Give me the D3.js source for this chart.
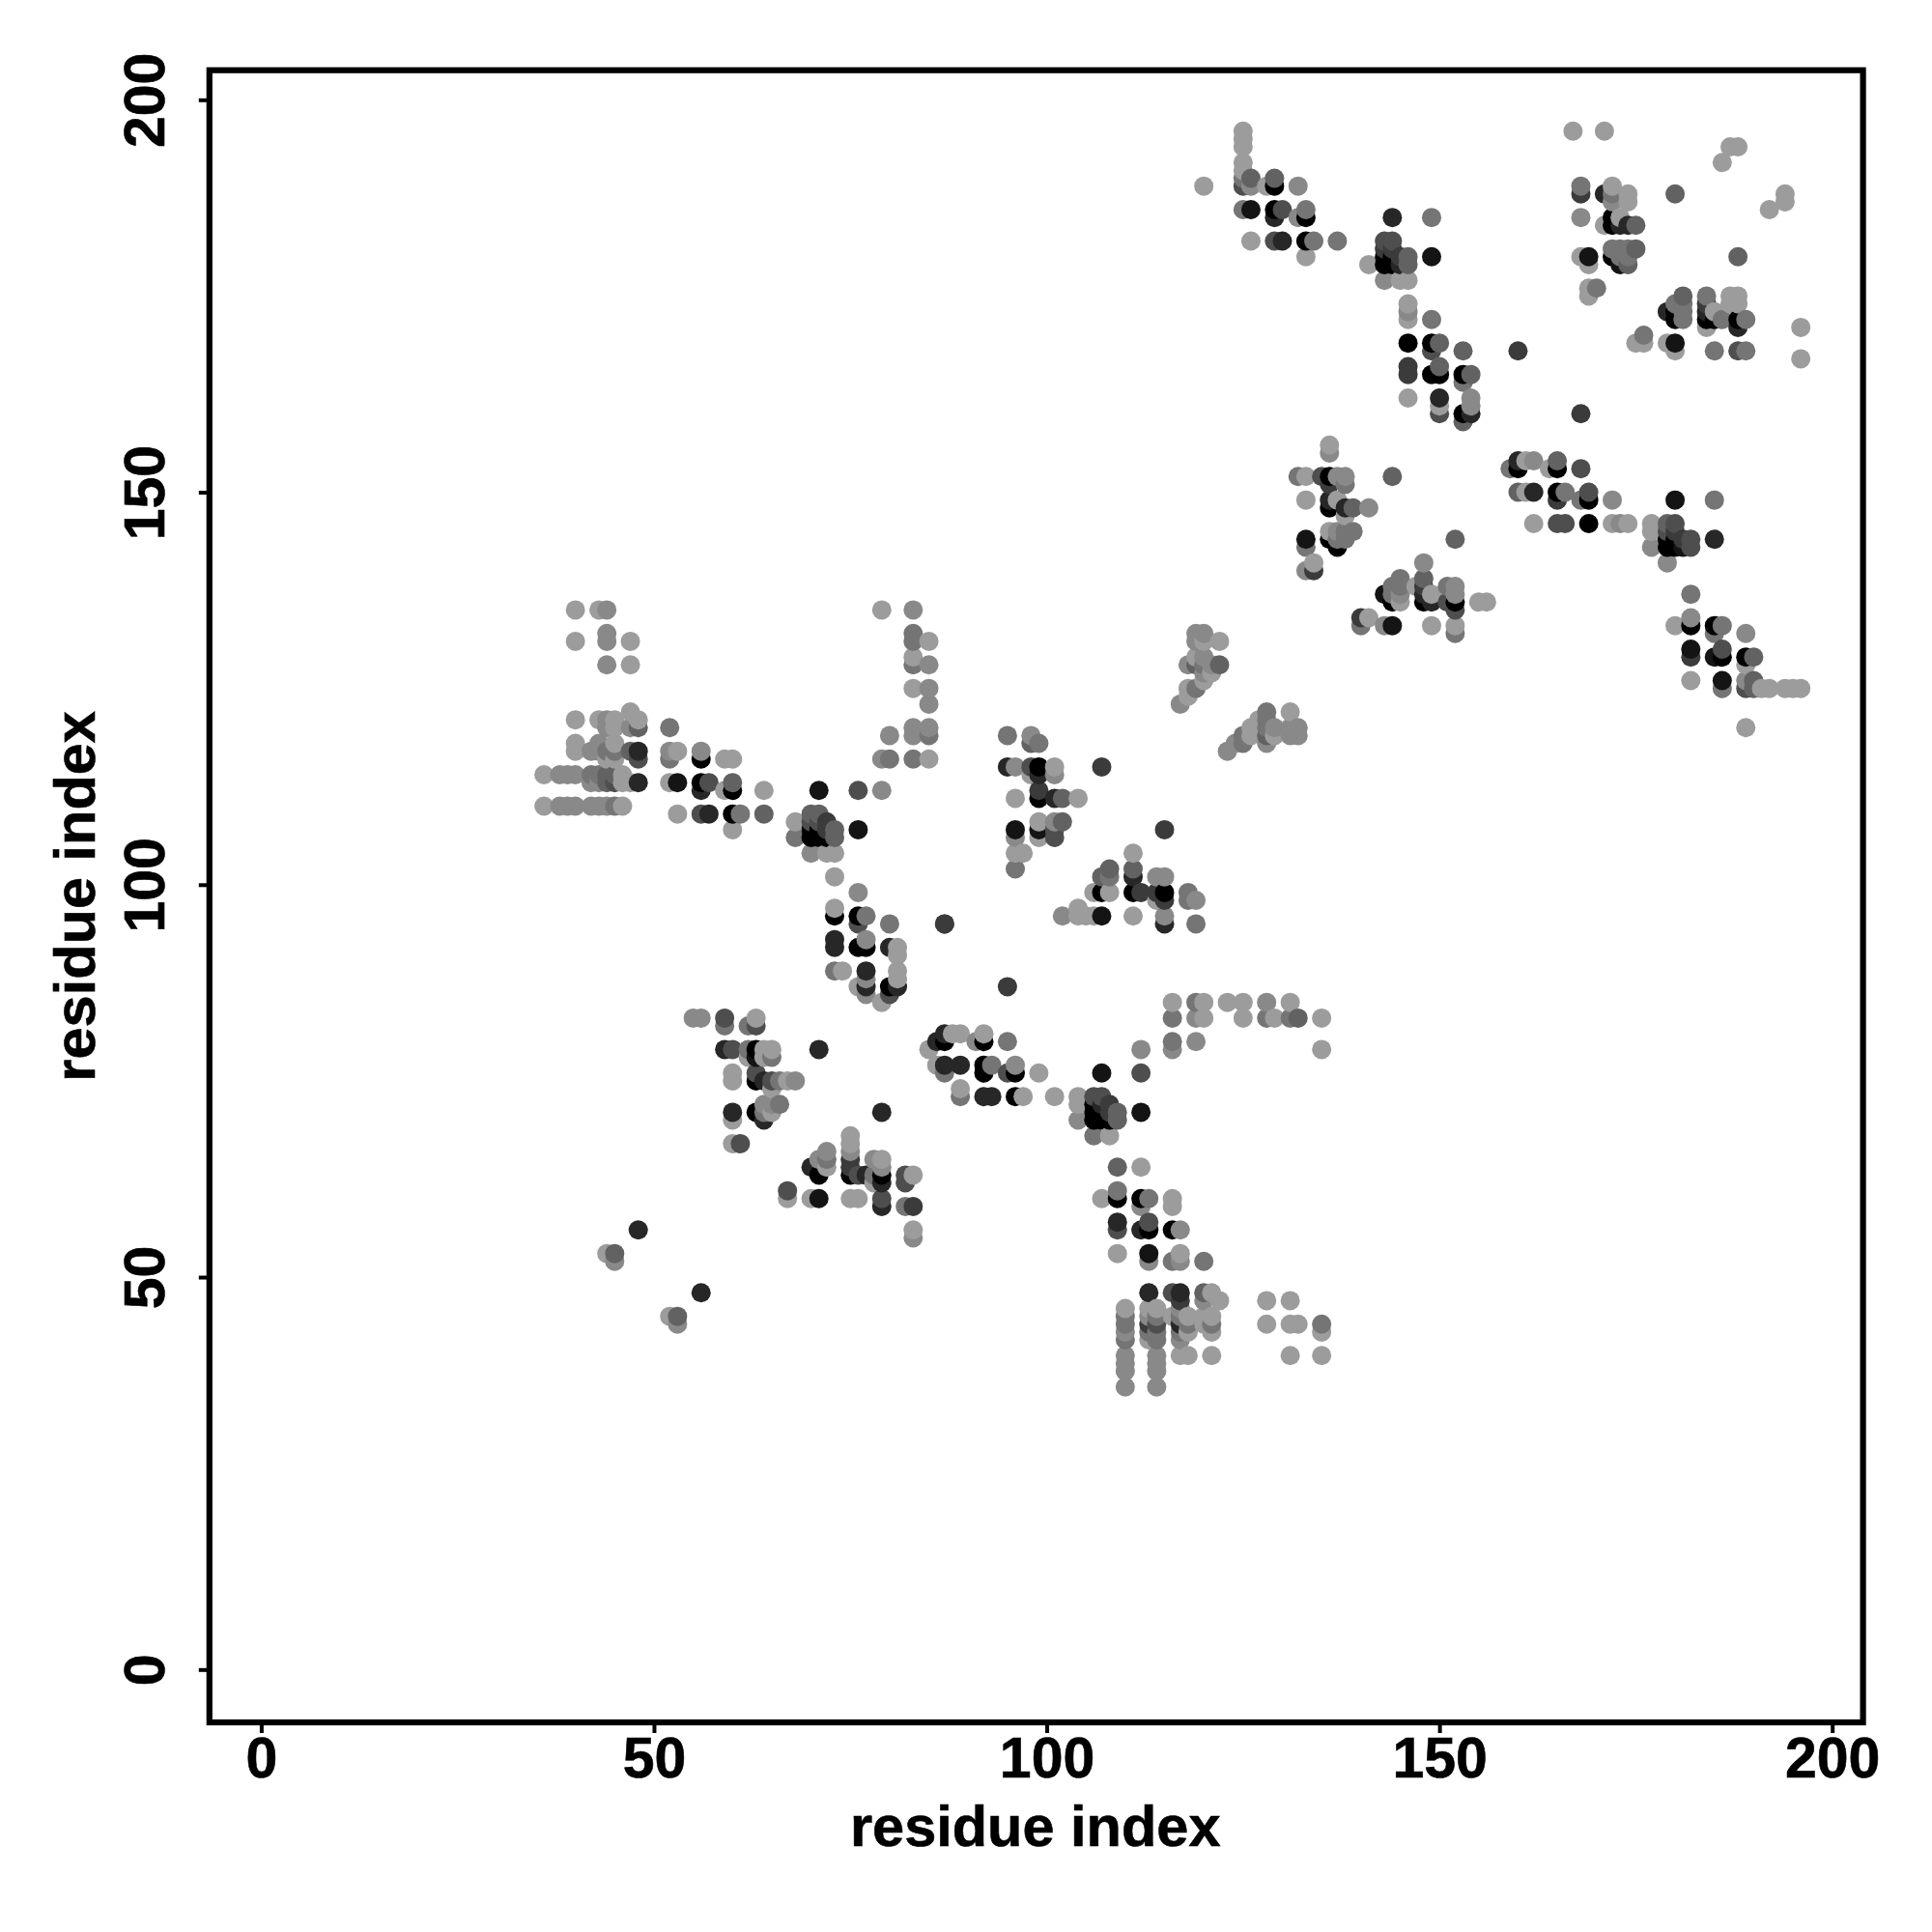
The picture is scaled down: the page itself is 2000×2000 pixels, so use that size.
<!DOCTYPE html>
<html><head><meta charset="utf-8">
<script src="https://cdn.jsdelivr.net/npm/d3@7/dist/d3.min.js"></script>
<style>html,body{margin:0;padding:0;background:#fff}</style></head>
<body><svg id="chart" width="2000" height="2000"></svg>
<script>
// each contact: [residue i, residue j, strength 1 (weak) .. 9 (strong)]
const tickValues = [0, 50, 100, 150, 200];
const axisTitle = "residue index";
const clusterA = [
[40,135,1],[43,135,1],[44,135,2],[40,131,1],[44,132,2],[44,131,2],[47,131,1],[44,128,2],[47,128,1],
[40,121,1],[43,121,1],[44,121,2],[45,121,1],[47,122,1],[48,121,1],[44,120,2],[45,120,1],[47,120,2],[48,120,4],
[40,118,1],[40,117,1],[42,117,2],[43,118,2],[43,117,2],[44,117,3],[45,118,1],[45,117,3],[44,116,1],[45,116,1],[47,117,4],[48,117,7],[48,116,5],
[36,114,1],[38,114,2],[39,114,2],[40,114,2],[42,114,3],[43,114,3],[44,114,4],[45,114,4],[46,114,1],
[42,113,2],[43,113,2],[44,113,4],[45,113,5],[46,113,1],[47,113,1],[48,113,7],
[36,110,1],[38,110,2],[39,110,2],[40,110,2],[42,110,2],[43,110,2],[44,110,2],[45,110,3],[46,110,1]
];
const clusterB = [
[52,120,3],[52,117,2],[53,117,1],[56,117,2],[52,116,3],[56,116,9],[59,116,1],[60,116,1],
[52,113,1],[53,113,8],[56,113,9],[57,113,5],[60,113,4],[56,112,7],[59,112,1],[60,112,9],[64,112,1],
[53,109,1],[56,109,5],[57,109,7],[60,109,9],[61,109,3],[64,109,4],[60,107,1],
[71,112,8],[76,112,5],[79,112,2],[68,108,1],[68,106,3],
[70,109,4],[71,109,4],[70,108,5],[71,108,5],[72,108,6],[70,107,9],[71,107,9],[72,107,6],[73,107,4],
[70,106,9],[71,106,9],[72,106,9],[73,106,4],[76,107,8],[70,104,2],[72,104,1],[73,104,1]
];
const clusterC = [
[79,135,1],[83,135,2],[83,132,3],[83,131,3],[85,131,1],[83,129,1],[83,128,3],[85,128,2],[83,125,1],[85,125,2],[85,123,2],
[83,120,2],[85,120,2],[80,119,2],[83,119,2],[85,119,3],[79,116,2],[80,116,3],[83,116,3],[85,116,1],
[73,101,1],[76,99,2],[73,97,1],[73,96,9],[76,96,9],[77,96,3],[76,95,5],[80,95,3],[87,95,6],
[73,93,7],[77,93,2],[73,92,7],[76,92,9],[77,92,9],[80,92,7],[81,92,1],[81,91,1],[73,89,3],[74,89,1],[77,89,7],[81,89,1],
[77,88,2],[81,88,1],[76,87,1],[77,87,7],[80,87,9],[81,87,7],[77,86,2],[80,86,5],[79,85,1]
];
const clusterD = [
[55,83,2],[56,83,2],[59,83,5],[63,83,1],[59,82,3],[62,82,3],[63,82,5],[59,79,7],[60,79,5],[62,79,3],[63,79,9],[64,79,1],[65,79,1],[71,79,7],
[62,78,1],[63,78,8],[64,78,1],[65,78,3],[60,76,1],[63,76,5],[60,75,1],[63,75,9],[64,75,7],[65,75,5],[66,75,3],[67,75,1],[68,75,2],[65,74,1],
[64,72,2],[65,72,2],[66,72,3],[60,71,7],[63,71,9],[64,71,3],[65,71,1],[60,70,1],[64,70,7],[60,67,1],[61,67,5],[79,71,7]
];
const clusterE = [
[72,66,2],[72,65,3],[71,65,2],[75,68,1],[75,67,1],[75,66,2],[75,65,6],[75,64,6],[75,63,9],[70,64,7],[72,64,1],
[71,63,9],[76,63,5],[77,63,7],[78,63,3],[78,65,2],[79,65,1],[79,64,2],[79,63,9],[82,63,5],[83,63,1],[78,62,1],[79,62,7],[82,62,5],
[67,61,5],[67,60,1],[70,60,1],[71,60,8],[75,60,1],[76,60,1],[79,60,5],[79,59,7],[82,59,3],[83,59,6],[83,56,1],[83,55,2],
[48,56,7],[44,53,1],[45,53,4],[45,52,2],[56,48,7],[52,45,1],[53,45,4],[53,44,2]
];
const clusterF = [
[95,119,3],[98,119,2],[98,118,4],[99,118,3],[95,115,7],[96,115,2],[98,115,5],[99,115,9],[101,115,1],[107,115,6],
[98,114,1],[99,114,7],[101,114,2],[99,112,6],[96,111,1],[99,111,9],[101,111,7],[102,111,4],[104,111,1],
[99,108,1],[101,108,2],[102,108,4],[96,107,8],[99,107,8],[101,107,5],[115,107,6],[96,106,2],[99,106,1],[101,106,5],[96,104,1],[97,104,1],[96,102,3],
[111,104,1],[108,102,4],[111,102,4],[107,101,4],[108,101,3],[111,101,7],[114,101,2],[115,101,2],
[106,99,1],[107,99,9],[108,99,1],[111,99,9],[112,99,6],[114,99,6],[115,99,9],[118,99,3],[114,98,1],[115,98,6],[118,98,3],[119,98,2],
[102,96,2],[104,96,1],[105,96,1],[106,96,1],[107,96,8],[111,96,1],[115,96,2],[104,97,1],[115,95,7],[119,95,3],[87,95,6],[95,87,6]
];
const clusterG = [
[119,132,2],[120,132,2],[119,131,2],[120,131,1],[122,131,1],[119,129,1],[120,129,2],[118,128,2],[119,128,4],[120,128,3],[121,128,2],[122,128,4],
[120,127,2],[121,127,1],[120,126,1],[118,125,1],[119,125,3],[118,124,1],[117,123,2],
[123,117,2],[124,118,2],[125,118,3],[125,119,3],[126,119,1],[126,120,1],[127,120,1],[127,121,1],
[128,122,3],[131,122,1],[128,121,3],[128,120,3],[129,120,2],[128,119,4],[129,119,1],[131,120,2],[132,120,2],[131,119,2],[132,119,2],[128,118,2]
];
const clusterH = [
[116,85,1],[119,85,3],[120,85,1],[123,85,1],[125,85,1],[128,85,2],[131,85,1],
[116,83,3],[119,83,2],[120,83,1],[125,83,1],[128,83,3],[129,83,1],[131,83,3],[132,83,4],[135,83,1],
[116,80,3],[119,80,2],[116,79,2],[112,79,2],[135,79,1],
[87,81,7],[88,81,1],[89,81,1],[92,81,1],[86,80,7],[87,80,9],[91,80,2],[92,80,9],[95,80,3],[85,79,1],
[86,77,1],[87,77,7],[89,77,7],[92,77,9],[93,77,3],[96,77,2],[87,76,3],[92,76,9],[95,76,5],[96,76,9],[99,76,1],
[89,74,1],[89,73,3],[92,73,7],[93,73,7],[96,73,9],[97,73,1],[101,73,1],
[104,73,1],[104,72,1],[104,70,2],[107,76,8],[112,76,5],[112,71,8],
[106,73,5],[107,73,5],[106,72,9],[107,72,7],[108,72,6],[106,71,9],[107,71,9],[108,71,6],[109,71,4],[106,70,9],[107,70,9],[108,70,9],[109,70,4],[106,68,3],[108,68,1]
];
const clusterI = [
[109,64,4],[112,64,1],[109,61,3],[107,60,1],[109,60,9],[112,60,9],[113,60,3],[116,60,1],[112,59,2],[116,59,1],
[109,57,7],[113,57,5],[109,56,5],[112,56,7],[113,56,9],[116,56,9],[117,56,2],[109,53,1],[113,53,8],[117,53,1],[113,52,2],[116,52,3],[117,52,2],[120,52,3],
[113,48,7],[116,48,5],[117,48,7],[120,48,4],[121,48,1],[120,47,2],[122,47,1],[117,47,6],[128,47,1],[131,47,1],
[110,46,1],[113,46,1],[114,46,1],[117,46,2],[110,45,3],[113,45,2],[114,45,3],[116,45,1],[117,45,3],[118,45,1],[120,45,1],[121,45,1],
[110,44,3],[113,44,6],[114,44,5],[117,44,7],[118,44,3],[120,44,1],[121,44,3],[128,44,1],[131,44,1],[132,44,1],[135,44,3],
[110,43,2],[113,43,3],[114,43,3],[117,43,3],[118,43,1],[121,43,1],[135,43,1],
[110,42,3],[113,42,1],[114,42,3],[117,42,2],
[110,40,2],[114,40,2],[117,40,1],[118,40,1],[121,40,1],[131,40,1],[135,40,1],
[110,39,2],[114,39,2],[110,38,2],[114,38,2],[110,36,2],[114,36,2]
];
const clusterJ = [
[120,189,1],[125,196,1],[125,195,1],[125,194,1],[125,192,1],[125,191,1],[125,190,3],[125,189,5],[126,190,4],[126,189,2],[128,189,1],[129,190,4],[129,189,9],[132,189,2],
[125,186,3],[126,186,8],[129,186,9],[130,186,5],[129,185,7],[132,185,2],[133,185,9],[133,186,3],
[126,182,1],[129,182,5],[130,182,7],[133,182,9],[134,182,3],[137,182,3],[133,180,1],
[144,185,7],[149,185,3],[143,182,5],[144,182,5],[143,181,6],[144,181,6],[143,180,9],[144,180,9],[145,180,6],[146,180,4],[149,180,8],
[141,179,1],[143,179,9],[144,179,9],[145,179,7],[146,179,4],[143,177,2],[145,177,1],[146,177,1],
[146,174,1],[146,173,2],[146,172,1],[149,172,3],[146,169,9],[149,169,9],[150,169,4],[149,168,5],[153,168,4],[160,168,6],
[146,166,6],[146,165,6],[149,165,9],[150,166,4],[150,165,9],[153,165,9],[154,165,4],[153,164,3],
[146,162,1],[150,162,7],[154,162,2],[150,161,1],[154,161,2],[150,160,5],[153,160,9],[154,160,7],[153,159,4],[168,160,6]
];
const clusterK = [
[167,196,1],[171,196,1],[187,194,1],[188,194,1],[186,192,1],[168,189,3],[172,189,1],[168,188,6],[171,188,7],[172,188,3],[174,188,1],[180,188,4],[194,188,1],
[172,187,2],[174,187,1],[194,187,1],[192,186,1],[168,185,2],[172,185,9],[173,185,1],[171,184,1],[172,184,9],[173,184,7],[174,184,7],[175,184,4],
[172,181,3],[173,181,3],[174,181,3],[175,181,4],[168,180,1],[169,180,8],[172,180,9],[173,180,3],[174,180,3],[188,180,4],[169,179,1],[173,179,8],[174,179,4],[169,176,1],[170,176,3],[169,175,1],
[181,175,4],[184,175,3],[187,175,1],[188,175,1],[180,174,3],[181,174,3],[184,174,6],[187,174,1],[188,174,1],[179,173,7],[180,173,9],[181,173,3],[184,173,7],[185,173,1],
[180,172,9],[181,172,3],[184,172,9],[185,172,9],[186,172,3],[188,172,9],[189,172,3],[184,171,1],[188,171,7],[196,171,1],
[176,170,3],[175,169,1],[176,169,1],[179,169,1],[180,169,8],[180,168,1],[185,168,3],[188,168,5],[189,168,3],[196,167,1]
];
const clusterL = [
[136,156,1],[136,155,2],[132,152,3],[133,152,1],[135,152,5],[136,152,9],[137,152,2],[138,152,2],[144,152,4],[136,151,6],[138,151,3],
[133,149,1],[136,149,7],[137,149,1],[136,148,9],[138,148,7],[139,148,4],[141,148,2],[138,147,1],
[136,145,1],[137,145,2],[138,145,3],[139,145,3],[133,144,8],[136,144,9],[137,144,3],[138,144,3],[152,144,4],[133,143,3],[137,143,9],[134,141,1],[133,140,2],[134,140,6],
[148,141,2],[145,139,3],[148,139,4],[144,138,3],[145,138,3],[147,138,1],[148,138,6],[151,138,3],[152,138,2],
[143,137,8],[144,137,3],[145,137,2],[148,137,7],[149,137,1],[152,137,2],[144,136,9],[145,136,1],[148,136,9],[149,136,7],[151,136,5],[152,136,9],[155,136,1],[156,136,1],[152,135,5],
[140,134,6],[141,134,1],[140,133,3],[143,133,2],[144,133,8],[149,133,1],[152,133,1],[152,132,3]
];
const clusterM = [
[160,154,7],[161,154,1],[162,154,2],[165,154,4],[159,153,3],[160,153,9],[164,153,1],[165,153,9],[168,153,5],
[160,150,4],[161,150,1],[162,150,7],[165,150,9],[166,150,3],[169,150,5],[165,149,6],[168,149,3],[169,149,9],[172,149,2],
[162,146,1],[165,146,5],[166,146,5],[169,146,9],[172,146,1],[173,146,2],[174,146,1],
[180,149,8],[185,149,3],[177,146,1],[179,146,4],[180,146,5],[177,145,1],[179,145,5],[180,145,6],[177,143,2],
[179,144,9],[180,144,9],[181,144,6],[182,144,5],[185,144,7],[179,143,9],[180,143,9],[181,143,8],[182,143,5],[179,141,2],
[182,137,3],[182,134,2],[180,133,1],[182,133,9],[185,133,9],[186,133,3],[185,132,3],[189,132,2],
[182,130,8],[186,130,5],[182,129,6],[185,129,8],[186,129,9],[189,129,9],[190,129,4],[189,128,1],
[182,126,1],[186,126,8],[189,126,2],[190,126,4],[186,125,3],[189,125,5],[190,125,4],[191,125,1],[192,125,1],[194,125,1],[195,125,1],[196,125,1],[189,120,1]
];
const contacts = [clusterA,clusterB,clusterC,clusterD,clusterE,clusterF,clusterG,clusterH,clusterI,clusterJ,clusterK,clusterL,clusterM].flat();

const svg = d3.select("#chart");
const x = d3.scaleLinear().domain([0,200]).range([270.4,1896.7]);
const y = d3.scaleLinear().domain([0,200]).range([1728.3,103.3]);
const shade = d3.scaleLinear().domain([1,9]).range(["#9c9c9c","#000000"]);
const FONT = "'Liberation Sans', Arial, sans-serif";
const frameL=216.8, frameR=1928.6, frameT=72.7, frameB=1783;

// painted in residue order: higher i, then higher j, on top
svg.append("g").selectAll("circle")
  .data(contacts.slice().sort((a,b)=>a[0]-b[0]||a[1]-b[1]))
  .join("circle")
  .attr("cx",d=>x(d[0])).attr("cy",d=>y(d[1])).attr("r",10)
  .attr("fill",d=>shade(d[2]));

svg.append("rect").attr("x",frameL).attr("y",frameT).attr("width",frameR-frameL).attr("height",frameB-frameT)
  .attr("fill","none").attr("stroke","#000").attr("stroke-width",6.2);

const gx = svg.append("g").attr("transform",`translate(0,${frameB})`)
  .call(d3.axisBottom(x).tickValues(tickValues).tickSize(11).tickPadding(0));
const gy = svg.append("g").attr("transform",`translate(${frameL},0)`)
  .call(d3.axisLeft(y).tickValues(tickValues).tickSize(11).tickPadding(0));
[gx,gy].forEach(g=>{
  g.select(".domain").remove();
  g.selectAll(".tick line").attr("stroke","#000").attr("stroke-width",4);
  g.selectAll("text").attr("font-family",FONT).attr("font-weight","bold").attr("font-size",59)
    .attr("fill","#000").attr("stroke","#000").attr("stroke-width",0.6);
});
gx.selectAll("text").attr("y",57).attr("dy",null);
gy.selectAll("text").attr("x",null).attr("dy",null).attr("text-anchor","middle")
  .attr("transform","translate(-47,0) rotate(-90)");

svg.append("text").attr("x",(frameL+frameR)/2-1).attr("y",1911).attr("text-anchor","middle")
  .attr("font-family",FONT).attr("font-weight","bold").attr("font-size",59.5)
  .attr("stroke","#000").attr("stroke-width",0.6).text(axisTitle);
svg.append("text").attr("transform",`translate(98,${(frameT+frameB)/2}) rotate(-90)`).attr("text-anchor","middle")
  .attr("font-family",FONT).attr("font-weight","bold").attr("font-size",59.5)
  .attr("stroke","#000").attr("stroke-width",0.6).text(axisTitle);
</script></body></html>
